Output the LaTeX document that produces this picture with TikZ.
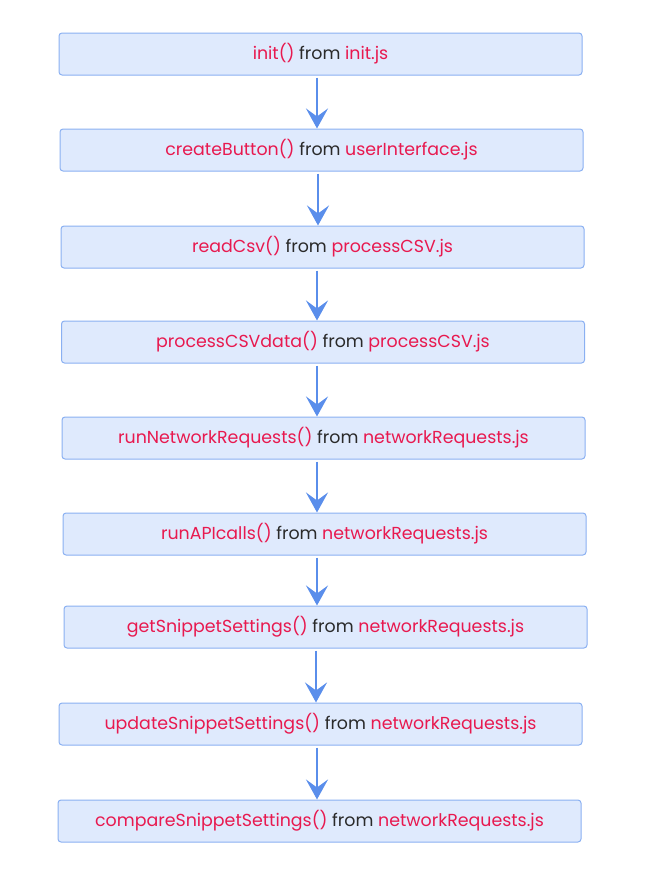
\documentclass[tikz,border=0pt]{standalone}
\usepackage{fontspec}
\setmainfont{Poppins}
\usetikzlibrary{arrows.meta}
\definecolor{boxfill}{HTML}{DFEAFD}
\definecolor{boxline}{HTML}{8AB0F2}
\definecolor{arrowc}{HTML}{5A8EEB}
\definecolor{fn}{HTML}{E8194F}
\definecolor{dk}{HTML}{2A2A2A}
\tikzset{
  stepbox/.style={draw=boxline, fill=boxfill, line width=1pt, rounded corners=3pt,
    minimum width=523pt, minimum height=42pt, inner sep=0pt,
    font=\fontsize{17.4}{20}\selectfont},
  arr/.style={draw=arrowc, line width=2.4pt, -{Stealth[length=20pt,width=22pt,inset=8pt]}}
}
\newcommand{\fnt}[1]{\textcolor{fn}{#1}}
\newcommand{\frm}{\textcolor{dk}{from}}
\begin{document}
\begin{tikzpicture}[x=1pt,y=-1pt]
\useasboundingbox (0,0) rectangle (645,886);
\node[stepbox] (n1) at (320.5,54) {\fnt{init()} \frm{} \fnt{init.js}};
\node[stepbox] (n2) at (321.5,150) {\fnt{createButton()} \frm{} \fnt{userInterface.js}};
\node[stepbox] (n3) at (322.5,247) {\fnt{readCsv()} \frm{} \fnt{processCSV.js}};
\node[stepbox] (n4) at (323,342) {\fnt{processCSVdata()} \frm{} \fnt{processCSV.js}};
\node[stepbox] (n5) at (323.5,438) {\fnt{runNetworkRequests()} \frm{} \fnt{networkRequests.js}};
\node[stepbox] (n6) at (324.5,534) {\fnt{runAPIcalls()} \frm{} \fnt{networkRequests.js}};
\node[stepbox] (n7) at (325.5,627) {\fnt{getSnippetSettings()} \frm{} \fnt{networkRequests.js}};
\node[stepbox] (n8) at (320.5,724) {\fnt{updateSnippetSettings()} \frm{} \fnt{networkRequests.js}};
\node[stepbox] (n9) at (319.5,821) {\fnt{compareSnippetSettings()} \frm{} \fnt{networkRequests.js}};
\foreach \a/\b/\x in {n1/n2/317, n2/n3/318, n3/n4/317, n4/n5/317, n5/n6/317, n6/n7/317, n7/n8/316, n8/n9/317}{
  \draw[arr] (\a.south -| \x,0) ++(0,2) coordinate (s\a) (s\a) -- (\b.north -| \x,0);
}
\end{tikzpicture}
\end{document}
